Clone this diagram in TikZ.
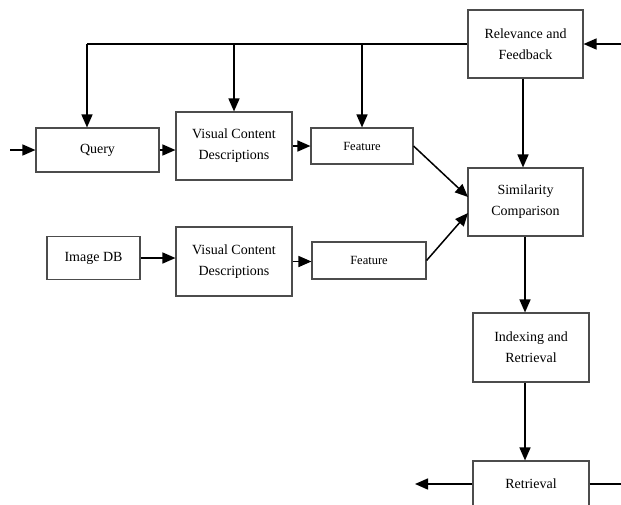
\documentclass[tikz,border=0pt]{standalone}
\usepackage{fontspec}
\setmainfont{Liberation Serif}
\usetikzlibrary{arrows.meta,calc}
\begin{document}
\begin{tikzpicture}[x=1pt,y=-1pt,
  box/.style={draw=black!70,line width=1.1pt,fill=white,inner sep=0pt,align=center,
    font=\fontsize{14}{21}\selectfont},
  smallbox/.style={box,font=\fontsize{12.5}{14}\selectfont},
  arr/.style={line width=1.5pt,-{Triangle[length=13pt,width=11pt]}},
  ln/.style={line width=1.5pt}]
\clip (0,0) rectangle (621,504);
\fill[white] (0,0) rectangle (621,504);
% nodes
\node[box,minimum width=115pt,minimum height=68pt] (rel) at (525.5,44) {Relevance and\\Feedback};
\node[box,minimum width=123pt,minimum height=44pt] (query) at (97.5,150) {Query};
\node[box,minimum width=116pt,minimum height=68pt] (vcd1) at (234,146) {Visual Content\\Descriptions};
\node[smallbox,minimum width=102pt,minimum height=36pt] (feat1) at (362,146) {Feature};
\node[box,minimum width=115pt,minimum height=68pt] (sim) at (525.5,202) {Similarity\\Comparison};
\node[box,minimum width=93pt,minimum height=43pt] (imgdb) at (93.5,258) {Image DB};
\node[box,minimum width=116pt,minimum height=69pt] (vcd2) at (234,261.5) {Visual Content\\Descriptions};
\node[smallbox,minimum width=114pt,minimum height=37pt] (feat2) at (369,260.5) {Feature};
\node[box,minimum width=116pt,minimum height=69pt] (idx) at (531,347.5) {Indexing and\\Retrieval};
\node[box,minimum width=116pt,minimum height=46pt] (ret) at (531,484) {Retrieval};
% coordinates
\coordinate (j0) at (87,44);
\coordinate (qin) at (10,150);
\coordinate (rin) at (621,44);
\coordinate (s1) at (468,197);
\coordinate (s2) at (468,213);
\coordinate (rout) at (415,484);
\coordinate (rend) at (621,484);
\coordinate (vx) at (525,0);
\coordinate (vy) at (523,0);
% connectors
\draw[ln] (rel.west) -- (j0);
\draw[arr] (j0) -- (j0 |- query.north);
\draw[arr] (vcd1.north |- j0) -- (vcd1.north);
\draw[arr] (feat1.north |- j0) -- (feat1.north);
\draw[arr] (rin) -- (rel.east);
\draw[arr] (qin) -- (query.west);
\draw[arr] (query.east) -- (query.east -| vcd1.west);
\draw[arr] (vcd1.east) -- (feat1.west);
\draw[arr] (feat1.east) -- (s1);
\draw[arr] (feat2.east) -- (s2);
\draw[arr] (imgdb.east) -- (imgdb.east -| vcd2.west);
\draw[arr] (vcd2.east) -- (vcd2.east -| feat2.west);
\draw[arr] (vy |- rel.south) -- (vy |- sim.north);
\draw[arr] (vx |- sim.south) -- (vx |- idx.north);
\draw[arr] (vx |- idx.south) -- (vx |- ret.north);
\draw[arr] (ret.west) -- (rout);
\draw[ln] (ret.east) -- (rend);
\end{tikzpicture}
\end{document}
